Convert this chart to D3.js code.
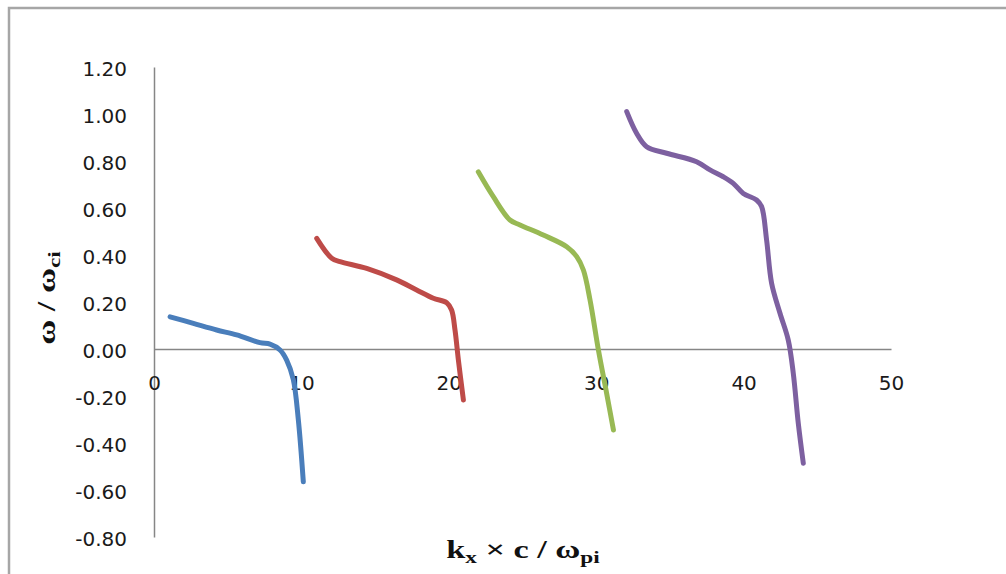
<!DOCTYPE html>
<html>
<head>
    <script src="https://d3js.org/d3.v7.min.js"></script>
    <style>
        body { margin: 0; background: #fff; }
        svg { display: block; }
    </style>
</head>
<body>
    <svg width="1006" height="574"></svg>
    <script>
        // values
        const blueX = [1.09, 2.67, 4.25, 5.61, 7.19, 7.87, 8.55, 9.0, 9.45, 9.79, 10.13];
        const blueY = [0.137, 0.109, 0.081, 0.060, 0.027, 0.021, -0.004, -0.047, -0.13, -0.30, -0.565];
        const redX = [11.04, 12.06, 12.62, 14.43, 16.46, 17.82, 18.95, 19.86, 20.19, 20.42, 20.65, 20.99];
        const redY = [0.471, 0.386, 0.372, 0.343, 0.294, 0.251, 0.216, 0.197, 0.166, 0.081, -0.047, -0.217];
        const greenX = [22.0, 23.02, 24.15, 24.83, 26.41, 28.0, 28.68, 29.13, 29.58, 30.15, 30.71, 31.17];
        const greenY = [0.754, 0.648, 0.549, 0.528, 0.485, 0.435, 0.393, 0.336, 0.209, -0.004, -0.189, -0.345];
        const purpleX = [32.07, 32.74, 33.42, 34.78, 36.81, 37.72, 38.62, 39.30, 39.98, 40.88, 41.22, 41.56, 41.90, 42.47, 43.03, 43.37, 43.71, 44.05];
        const purpleY = [1.010, 0.918, 0.861, 0.833, 0.797, 0.762, 0.733, 0.705, 0.662, 0.634, 0.606, 0.464, 0.280, 0.152, 0.038, -0.103, -0.316, -0.486];

        const xTicks = [0, 10, 20, 30, 40, 50];
        const yTicks = [1.2, 1.0, 0.8, 0.6, 0.4, 0.2, 0.0, -0.2, -0.4, -0.6, -0.8];
        const colors = ["#4a7ebb", "#be4b48", "#98b954", "#7d60a0"];

        const series = [
            blueX.map((x, i) => [x, blueY[i]]),
            redX.map((x, i) => [x, redY[i]]),
            greenX.map((x, i) => [x, greenY[i]]),
            purpleX.map((x, i) => [x, purpleY[i]])
        ];

        const svg = d3.select("svg");

        // chart border (runs off the right and bottom)
        svg.append("rect")
            .attr("x", 9).attr("y", 8)
            .attr("width", 1100).attr("height", 700)
            .attr("fill", "none")
            .attr("stroke", "#a6a6a6")
            .attr("stroke-width", 2.5);

        const xScale = d3.scaleLinear().domain([0, 50]).range([154, 891]);
        const yScale = d3.scaleLinear().domain([-0.8, 1.2]).range([537, 67]);

        // plain hyphen for negatives, like the original
        const fmt = v => d3.format(".2f")(v).replace("\u2212", "-");

        // y axis
        svg.append("g")
            .attr("transform", "translate(" + xScale(0) + ",0)")
            .call(d3.axisLeft(yScale).tickValues(yTicks).tickSize(0).tickPadding(27).tickFormat(fmt))
            .call(g => g.select(".domain").attr("stroke", "#868686").attr("stroke-width", 1.5))
            .call(g => g.selectAll("text")
                .attr("dy", "0.4em")
                .style("font-family", "DejaVu Sans")
                .style("font-size", "20px")
                .attr("fill", "#1a1a1a"));

        // x axis at y = 0
        svg.append("g")
            .attr("transform", "translate(0," + yScale(0) + ")")
            .call(d3.axisBottom(xScale).tickValues(xTicks).tickSize(0).tickPadding(41))
            .call(g => g.select(".domain").attr("stroke", "#868686").attr("stroke-width", 1.5))
            .call(g => g.selectAll("text")
                .attr("dy", "0")
                .style("font-family", "DejaVu Sans")
                .style("font-size", "20px")
                .attr("fill", "#1a1a1a"));

        const line = d3.line()
            .x(d => xScale(d[0]))
            .y(d => yScale(d[1]))
            .curve(d3.curveCatmullRom);

        svg.selectAll(".series")
            .data(series)
            .enter()
            .append("path")
            .attr("class", "series")
            .attr("d", line)
            .attr("fill", "none")
            .attr("stroke", (d, i) => colors[i])
            .attr("stroke-width", 5)
            .attr("stroke-linecap", "round")
            .attr("stroke-linejoin", "round");

        // axis titles
        const xTitle = svg.append("text")
            .attr("transform", "translate(523,558) scale(1.37,1)")
            .attr("text-anchor", "middle")
            .style("font-family", "Liberation Serif")
            .style("font-weight", "bold")
            .style("font-size", "25px")
            .attr("fill", "#111");
        xTitle.append("tspan").text("k");
        xTitle.append("tspan").attr("dy", 5).style("font-size", "17px").text("x");
        xTitle.append("tspan").attr("dy", -5).text(" × c / ω");
        xTitle.append("tspan").attr("dy", 5).style("font-size", "17px").text("pi");

        const yTitle = svg.append("text")
            .attr("transform", "translate(55,298) rotate(-90) scale(1.37,1)")
            .attr("text-anchor", "middle")
            .style("font-family", "Liberation Serif")
            .style("font-weight", "bold")
            .style("font-size", "25px")
            .attr("fill", "#111");
        yTitle.append("tspan").text("ω / ω");
        yTitle.append("tspan").attr("dy", 5).style("font-size", "17px").text("ci");
    </script>
</body>
</html>
